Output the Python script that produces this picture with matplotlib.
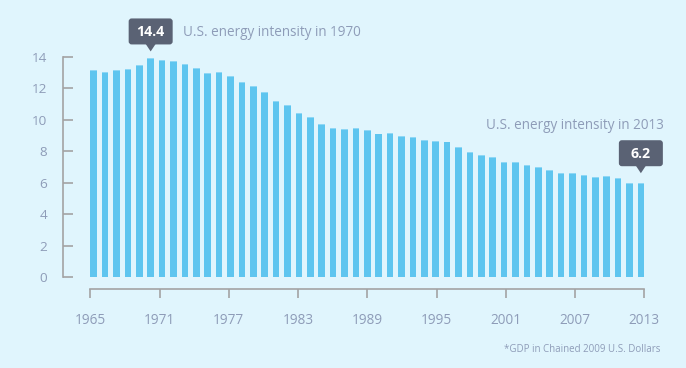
import matplotlib
matplotlib.use("Agg")
import matplotlib.pyplot as plt
from matplotlib.patches import FancyBboxPatch, Polygon
import numpy as np

# ---- data ----
years = list(range(1965, 2014))
intensity = [13.19, 13.06, 13.15, 13.25, 13.51, 13.94, 13.79, 13.74, 13.57, 13.32,
             13.00, 13.02, 12.76, 12.40, 12.15, 11.77, 11.17, 10.94, 10.43, 10.21,
             9.74, 9.47, 9.43, 9.47, 9.34, 9.13, 9.15, 8.98, 8.90, 8.72,
             8.68, 8.62, 8.30, 7.96, 7.77, 7.62, 7.32, 7.32, 7.13, 7.02,
             6.81, 6.60, 6.60, 6.47, 6.34, 6.40, 6.28, 5.98, 6.00]
y_ticks = [0, 2, 4, 6, 8, 10, 12, 14]
x_tick_years = [1965, 1971, 1977, 1983, 1989, 1995, 2001, 2007, 2013]
callout_years = [1970, 2013]
callout_labels = ["14.4", "6.2"]
callout_texts = ["U.S. energy intensity in 1970", "U.S. energy intensity in 2013"]
footnote = "*GDP in Chained 2009 U.S. Dollars"

# ---- style ----
W, H = 686, 368
BG = "#e0f5fd"
BAR = "#5ec5ef"
TXT = "#8e9cb8"
AX = "#a3a3a3"
BOX = "#5a6274"
plt.rcParams["font.family"] = ["Open Sans", "DejaVu Sans"]

fig = plt.figure(figsize=(W / 100, H / 100), dpi=100, facecolor=BG)

# pixel geometry
S = 11.40          # px per bar slot
WF = 0.59          # bar width fraction
first_center = 90.3 + 0.5 * WF * S
ax_l, ax_r = 63, 665
y0_px, y14_px = 277, 57

def fx(px):
    return px / W
def fy(py):
    return 1 - py / H

ax = fig.add_axes([fx(ax_l), fy(y0_px), (ax_r - ax_l) / W, (y0_px - y14_px) / H])
ax.set_facecolor("none")
xlim = ((ax_l - first_center) / S, (ax_r - first_center) / S)
ax.set_xlim(*xlim)
ax.set_ylim(0, 14)

idx = np.arange(len(years))
ax.bar(idx, intensity, width=WF, color=BAR, edgecolor="none", zorder=2)
# light top edge
ax.bar(idx, [0.06] * len(idx), bottom=np.array(intensity) - 0.06, width=WF,
       color="#8fd7f5", edgecolor="none", zorder=3)

for s in ["top", "right", "bottom"]:
    ax.spines[s].set_visible(False)
ax.spines["left"].set_color(AX)
ax.spines["left"].set_linewidth(1.2)
ax.spines["left"].set_bounds(0, 14)
ax.set_yticks(y_ticks)
ax.set_yticklabels([str(v) for v in y_ticks])
ax.tick_params(axis="y", direction="in", length=7, width=1.2, color=AX,
               labelcolor=TXT, labelsize=9.7, pad=11.5)
ax.set_xticks([])

# separate x axis below
axx = fig.add_axes([fx(ax_l), fy(289), (ax_r - ax_l) / W, 0.001])
axx.set_facecolor("none")
axx.set_xlim(*xlim)
for s in ["top", "right", "left"]:
    axx.spines[s].set_visible(False)
left_edge = -WF / 2
right_edge = (len(years) - 1) + WF / 2
def year_pos(y):
    return left_edge + (y - years[0]) / (years[-1] - years[0]) * (right_edge - left_edge)
axx.spines["bottom"].set_color(AX)
axx.spines["bottom"].set_linewidth(1.2)
axx.spines["bottom"].set_bounds(year_pos(years[0]), year_pos(years[-1]))
axx.set_xticks([year_pos(y) for y in x_tick_years])
axx.set_xticklabels([str(y) for y in x_tick_years])
axx.set_yticks([])
axx.tick_params(axis="x", direction="out", length=6.5, width=1.2, color=AX,
                labelcolor=TXT, labelsize=9.8, pad=11)

# overlay in pixel coordinates for callouts
ov = fig.add_axes([0, 0, 1, 1])
ov.set_xlim(0, W)
ov.set_ylim(H, 0)
ov.axis("off")
ov.set_facecolor("none")

fig.canvas.draw()
gaps = [6.5, 9.5]
for yr, lab, txt, gap, side in zip(callout_years, callout_labels, callout_texts, gaps, ["right", "above"]):
    i = years.index(yr)
    disp = ax.transData.transform((i, intensity[i]))
    px = disp[0]
    py = H - disp[1]
    tip = py - gap
    th, tw = 7, 10
    bw, bh = 44, 26
    btop = tip - th - bh
    box = FancyBboxPatch((px - bw / 2, btop), bw, bh,
                         boxstyle="round,pad=0,rounding_size=3",
                         facecolor=BOX, edgecolor="none", zorder=5)
    ov.add_patch(box)
    tri = Polygon([(px - tw / 2, tip - th - 0.5), (px + tw / 2, tip - th - 0.5), (px, tip)],
                  closed=True, facecolor=BOX, edgecolor="none", zorder=5)
    ov.add_patch(tri)
    ov.text(px, btop + bh / 2 + 0.5, lab, color="white", fontsize=10.2, fontweight="bold",
            ha="center", va="center", zorder=6)
    if side == "right":
        ov.text(px + bw / 2 + 10, btop + bh / 2 + 1, txt, color=TXT, fontsize=9.75,
                ha="left", va="center")
    else:
        ov.text(px + bw / 2 + 0.5, btop - 15, txt, color=TXT, fontsize=9.75,
                ha="right", va="center")

ov.text(660, 349, footnote, color=TXT, fontsize=7, ha="right", va="center")

fig.savefig("out.png", dpi=100, facecolor=BG)
